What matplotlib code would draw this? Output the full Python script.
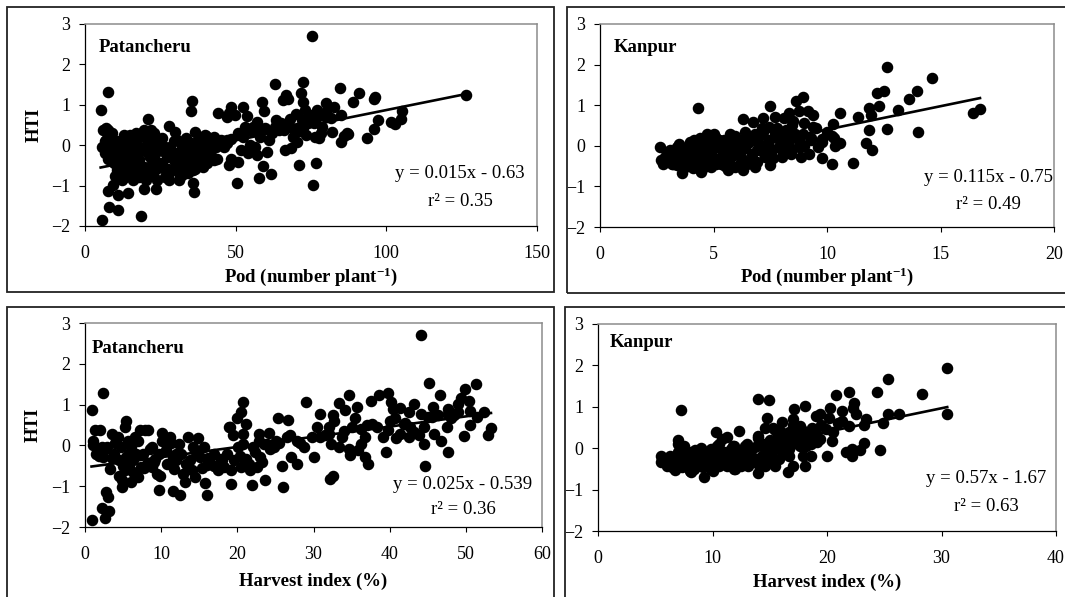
import numpy as np
import matplotlib
matplotlib.use("Agg")
import matplotlib.pyplot as plt
from matplotlib.patches import Rectangle

plt.rcParams["font.family"] = ["Liberation Serif", "DejaVu Serif"]
plt.rcParams["mathtext.fontset"] = "custom"
plt.rcParams["mathtext.rm"] = "Liberation Serif"
plt.rcParams["mathtext.it"] = "Liberation Serif:italic"
plt.rcParams["mathtext.bf"] = "Liberation Serif:bold"

# ---------------- data ----------------
# Patancheru: pods per plant vs HTI
pat_pod_x = [75.3, 5.2, 7.5, 5.5, 18.6, 8.0, 10.8, 7.6, 9.2, 11.1, 14.2, 12.3, 19.7, 23.7, 20.9, 27.8,
             35.6, 35.3, 36.1, 35.8, 50.3, 57.6, 61.6, 59.0, 70.9, 76.8, 75.5, 63.0, 72.2, 71.6, 84.5,
             90.8, 96.3, 96.0, 126.4, 88.8, 105.2, 105.0, 101.5, 102.9, 97.2, 96.0, 93.7, 86.8, 85.1,
             85.8, 87.4, 82.1, 82.6, 80.0, 85.1, 77.1, 76.4, 77.6, 73.3, 69.9, 66.7, 65.6, 67.4, 58.9,
             59.3, 52.3, 48.6, 47.8, 49.9, 53.8, 44.2, 47.2, 42.7, 40.1, 40.4, 43.6, 47.2, 50.7, 43.8,
             41.5, 47.8, 48.6, 50.7, 51.8, 54.1, 54.7, 56.4, 57.0, 53.2, 55.9, 57.0, 57.6, 59.9, 60.4,
             61.0, 63.3, 64.4, 63.1, 66.2, 67.9, 69.0, 68.5, 66.5, 70.2, 71.9, 73.1, 74.8, 75.9, 72.5,
             78.8, 80.0, 81.7, 78.2, 80.0, 72.2, 70.2,
             6.0, 7.1, 6.0, 5.5, 6.5, 7.7, 8.8, 8.3, 7.1, 9.4, 10.6, 11.7, 12.8, 11.1, 12.3, 14.0, 13.4,
             15.1, 14.9, 16.3, 15.7, 16.9, 17.4, 18.0, 18.6, 18.8, 19.7, 20.3, 20.9, 22.0, 21.4, 20.3,
             22.6, 23.2, 24.3, 25.5, 26.0, 26.6, 27.2, 28.3, 28.9, 30.0, 29.5, 31.2, 30.6, 31.8, 32.3,
             33.5, 34.1, 34.6, 35.2, 36.4, 36.9, 37.5, 38.6, 39.2, 39.8, 40.4, 42.1, 42.7, 45.0, 46.1,
             47.2, 37.5, 35.2, 30.6, 25.5, 23.7, 15.1, 13.4, 16.9, 10.6, 12.8, 8.3, 9.9, 11.7, 18.0,
             19.7, 22.0, 24.3, 27.8, 32.3, 34.1, 26.6, 17.4, 14.0, 20.9, 32.3, 35.8, 40.4,
             6.5, 7.5, 8.5, 9.5, 10.5, 11.5, 12.5, 13.5, 14.5, 15.5, 16.5, 17.5, 18.5, 19.5, 20.5,
             21.5, 22.5, 23.5, 24.5, 25.5, 26.5, 27.5, 28.5, 29.5, 30.5, 31.5, 32.5, 33.5, 34.5, 35.5,
             36.5, 38.0, 39.5, 41.0, 44.5, 46.0, 48.5, 52.5, 55.0, 58.0, 62.0, 65.0, 68.0, 71.0, 74.0,
             77.0, 10.0, 16.0, 24.0, 28.0, 13.0, 17.0, 23.0]
pat_pod_y = [2.71, 0.87, 1.31, -1.84, -1.75, -1.52, -1.60, -1.13, -0.99, -1.23, -1.19, -0.87, -1.09,
             -1.08, 0.64, 0.48, 1.09, 0.84, -1.17, -0.94, -0.94, -0.80, -0.71, -0.51, -0.50, -0.45,
             -0.99, 1.51, 1.56, 1.28, 1.42, 1.28, 1.20, 1.14, 1.24, 1.07, 0.85, 0.64, 0.57, 0.52, 0.62,
             0.41, 0.19, 0.29, 0.09, 0.24, 0.27, 0.33, 0.95, 1.04, 0.75, 0.87, 0.21, 0.19, 0.25, 0.76,
             1.24, 1.12, 1.15, 1.08, 0.85, 0.95, 0.95, 0.79, 0.75, 0.73, 0.79, 0.69, 0.21, 0.23, 0.05,
             -0.04, 0.05, 0.29, -0.33, -0.23, -0.49, -0.35, -0.41, -0.12, -0.20, 0.00, -0.04, -0.24,
             0.46, 0.46, 0.58, 0.33, 0.42, -0.16, 0.13, 0.62, 0.38, 0.46, 0.38, 0.46, 0.21, -0.08,
             -0.12, 0.09, 0.62, 0.87, 0.75, 0.54, 1.08, 0.46, 0.71, 0.67, 0.29, 0.83, 0.42, 0.42,
             0.38, 0.42, -0.04, -0.04, -0.20, 0.38, 0.29, -0.28, 0.13, -0.04, -0.28, 0.05, -0.12,
             -0.49, -0.61, -0.53, -0.28, -0.20, 0.25, 0.05, -0.45, -0.61, -0.28, -0.78, -0.08, 0.29,
             0.38, 0.17, -0.20, 0.38, -0.53, -0.86, -0.74, -0.37, -0.12, 0.17, -0.57, -0.78, -0.28,
             -0.04, -0.61, 0.33, -0.37, -0.86, -0.20, -0.53, -0.28, 0.17, -0.70, -0.45, -0.24, 0.32,
             -0.04, -0.37, -0.20, -0.53, 0.25, -0.12, -0.28, -0.37, 0.13, -0.04, 0.13, 0.13, 0.05,
             0.13, -0.04, 0.13, -0.70, -0.78, -0.12, -0.61, -0.45, 0.05, -0.20, -0.28, -0.37, -0.53,
             -0.28, -0.45, -0.70, -0.74, -0.53, -0.16, 0.13, 0.05, 0.05, -0.04, -0.61, -0.45,
             0.10, -0.35, -0.15, -0.45, 0.10, -0.15, -0.35, -0.10, -0.55, 0.15, -0.30, -0.55, -0.15,
             -0.70, 0.25, -0.30, -0.10, -0.60, 0.05, -0.45, -0.05, -0.60, -0.25, 0.10, -0.45, -0.75,
             -0.15, -0.45, -0.05, -0.40, -0.60, -0.30, -0.05, 0.00, 0.05, 0.00, 0.15, 0.20, 0.35,
             0.20, 0.30, 0.55, 0.65, 0.35, 0.55, 0.70, -0.75, -0.85, -0.85, -0.85, 0.25, 0.30, 0.30]

# Kanpur: pods per plant vs HTI
kan_pod_x = [12.66, 14.64, 13.96, 13.63, 12.49, 12.19, 12.27, 11.83, 11.94, 13.12, 16.44, 16.74, 12.64,
             13.99, 11.83, 11.73, 11.98, 11.13, 10.20, 9.76, 9.19, 10.59, 11.38, 10.26, 9.98, 10.29,
             10.36, 10.59, 9.76, 8.93, 8.63, 7.51, 7.18, 6.76, 6.31, 4.31, 7.73, 8.33, 8.78, 9.16,
             9.38, 8.48, 8.18, 8.11, 8.86, 9.38, 9.31, 8.78, 8.48, 8.33, 7.96, 7.73, 8.03, 7.51, 7.28,
             6.91, 7.13, 7.43, 7.13, 6.83, 6.53, 6.31, 5.93, 6.08, 5.93, 5.71, 5.63, 5.33, 5.26, 5.03,
             4.80, 4.73, 4.50, 4.28, 4.13, 3.98, 3.83, 3.60, 3.53, 3.38, 3.15, 2.93, 2.78, 2.63, 2.85,
             3.23, 3.68, 3.90, 4.43, 4.65, 4.88, 5.11, 5.41, 5.56, 5.78, 6.23, 6.68, 6.46, 6.98, 4.28,
             3.98, 4.73, 5.11, 5.48, 5.86, 6.68, 6.23, 5.33, 4.88, 4.58, 4.13, 3.75, 3.38, 3.08, 7.43,
             7.58, 7.88, 8.26, 8.63, 8.93, 9.61, 6.83, 5.63, 4.43,
             2.7, 3.0, 3.1, 3.3, 3.4, 3.6, 3.7, 3.9, 4.0, 4.2, 4.3, 4.5, 4.6, 4.7, 4.9, 5.0, 5.2, 5.3,
             5.4, 5.6, 5.7, 5.9, 6.0, 6.2, 6.4, 6.5, 6.7, 6.9, 7.0, 7.2, 7.4, 7.6, 7.8, 8.0, 8.2, 8.4,
             8.6, 8.8, 9.0, 9.3, 9.5, 9.0, 8.5, 7.8, 7.2, 6.4, 5.8, 5.0, 4.4, 3.5, 3.2, 4.1, 4.9, 5.5,
             6.1, 6.8, 7.5, 8.1, 9.8, 10.2]
kan_pod_y = [1.93, 1.66, 1.36, 1.15, 1.36, 1.29, 0.98, 0.92, 0.75, 0.89, 0.82, 0.90, 0.42, 0.34, 0.38,
             0.06, -0.11, -0.42, -0.44, -0.29, -0.21, 0.80, 0.71, 0.53, 0.34, 0.18, 0.00, 0.07, 0.16,
             1.21, 1.10, 0.98, 0.69, 0.59, 0.65, 0.93, 0.71, 0.80, 0.85, 0.85, 0.75, 0.51, 0.38, 0.69,
             -0.27, 0.47, 0.14, -0.03, -0.07, 0.22, 0.14, 0.30, -0.27, -0.48, -0.27, -0.40, -0.03,
             0.14, 0.43, 0.30, 0.06, -0.60, -0.52, -0.03, 0.24, 0.30, -0.19, -0.27, 0.14, -0.03,
             -0.36, 0.30, -0.11, -0.27, 0.14, -0.44, -0.03, -0.68, -0.27, -0.03, -0.44, -0.19, -0.44,
             -0.03, -0.27, -0.15, -0.36, -0.19, -0.44, -0.19, -0.11, -0.44, -0.03, -0.44, -0.27,
             -0.27, -0.19, -0.44, 0.06, -0.03, 0.10, 0.10, 0.18, 0.14, 0.06, 0.18, 0.14, -0.44, -0.52,
             -0.52, -0.52, -0.52, -0.48, -0.27, 0.47, -0.11, -0.03, 0.06, 0.18, 0.30, -0.03, -0.52,
             -0.60, -0.64,
             -0.35, -0.30, -0.10, -0.35, -0.15, -0.40, -0.20, 0.00, -0.30, -0.10, -0.40, 0.05, -0.30,
             0.20, -0.20, 0.10, -0.35, 0.00, -0.15, 0.05, -0.35, -0.10, 0.15, -0.40, -0.05, 0.20,
             -0.30, -0.10, 0.25, -0.15, 0.10, -0.30, 0.20, -0.10, 0.05, -0.20, 0.30, 0.10, 0.00, 0.20,
             0.45, 0.55, 0.60, 0.45, 0.35, 0.35, 0.25, 0.30, 0.20, 0.05, -0.45, -0.55, -0.45, -0.50,
             -0.20, -0.45, -0.05, 0.35, 0.10, 0.25]

# Patancheru: harvest index vs HTI
pat_hi_x = [44.1, 0.86, 2.35, 0.90, 2.58, 2.22, 3.17, 2.81, 3.0, 4.89, 9.68, 11.5, 12.5, 16.0, 15.7,
            19.2, 21.9, 23.6, 25.98, 25.8, 32.5, 32.2, 44.7, 47.7, 39.5, 37.1, 30.0, 30.9, 32.5, 32.1,
            29.0, 20.8, 20.5, 20.0, 19.1, 21.1, 25.4, 26.6, 24.2, 22.8, 25.1, 26.9, 27.8, 28.7, 27.1,
            27.8, 30.9, 29.8, 32.1, 32.3, 33.4, 33.7, 34.1, 33.4, 34.7, 35.7, 35.5, 34.6, 34.8, 36.2,
            35.9, 36.8, 36.2, 37.6, 38.6, 39.8, 40.2, 37.7, 38.4, 39.1, 40.8, 40.7, 41.4, 42.5, 43.2,
            42.7, 42.5, 43.2, 43.8, 44.5, 44.1, 45.1, 45.7, 45.8, 46.3, 46.6, 46.8, 47.5, 47.7, 48.1,
            49.0, 49.3, 49.9, 49.7, 50.4, 50.6, 51.5, 51.3, 52.4, 52.9, 53.3, 49.0, 47.7, 45.0, 41.9,
            40.5, 36.8, 39.8, 44.5, 41.4, 30.5, 32.7, 35.0,
            1.3, 1.1, 2.0, 1.5, 2.4, 2.2, 2.9, 3.3, 3.6, 4.3, 4.7, 4.9, 5.4, 5.2, 5.6, 5.4, 5.8, 5.2,
            6.1, 6.5, 6.7, 7.0, 7.2, 7.9, 8.3, 7.6, 8.1, 8.8, 9.2, 9.5, 10.1, 10.1, 10.6, 11.1, 11.5,
            11.7, 12.4, 12.6, 12.9, 13.1, 13.5, 13.8, 14.2, 14.4, 14.9, 15.1, 15.6, 16.0, 16.5, 17.4,
            17.8, 18.3, 18.7, 18.9, 19.4, 19.6, 20.1, 20.5, 20.8, 21.2, 21.7, 22.1, 22.6, 22.9, 23.0,
            23.5, 23.9, 24.8, 1.1, 3.8, 4.5, 6.3, 7.4, 8.8, 9.7, 11.9, 14.0, 16.9, 20.8,
            1.8, 2.6, 3.5, 4.0, 5.0, 5.8, 6.3, 6.9, 7.7, 8.5, 9.0, 9.9, 10.8, 11.3, 12.0, 13.3, 14.6,
            15.3, 16.2, 17.0, 18.0, 19.2, 20.3, 21.5, 22.3, 23.3, 24.3, 25.5, 26.5, 28.2, 31.5, 34.0,
            37.0, 40.0, 42.0, 45.5, 48.5, 50.5, 4.5, 6.0]
pat_hi_y = [2.71, 0.86, 1.29, -1.84, -1.77, -1.53, -1.61, -1.14, -1.26, -1.02, -1.10, -1.12, -1.21,
            -1.21, -0.92, -0.94, -0.96, -0.84, -1.02, -0.51, -0.76, -0.83, -0.51, -0.16, -0.17, -0.46,
            -0.28, 0.76, 0.74, 0.45, 1.06, 1.06, 0.82, 0.67, 0.45, 0.52, 0.67, 0.63, 0.30, 0.12, 0.12,
            0.25, 0.12, -0.04, -0.28, -0.45, 0.21, 0.21, 0.29, 0.04, -0.04, 0.21, 0.86, 1.05, 1.23,
            0.94, 0.66, -0.08, -0.24, 0.04, -0.12, -0.28, 0.41, 1.10, 1.23, 1.28, 1.06, 0.53, 0.45,
            0.21, 0.18, 0.66, 0.92, 0.82, 1.02, 0.45, 0.21, 0.33, 0.25, 0.04, 0.78, 1.54, 0.94, 0.29,
            0.74, 1.23, 0.12, 0.45, 0.90, 0.66, 0.82, 1.15, 1.39, 0.22, 1.10, 0.49, 0.70, 1.51, 0.82,
            0.25, 0.43, 1.02, 0.78, 0.70, 0.53, 0.90, 0.21, 0.37, 0.45, 0.29, 0.45, 0.61, 0.45,
            0.37, 0.00, 0.37, -0.20, -0.28, -0.04, -0.04, -0.57, 0.29, 0.21, -0.04, -0.86, 0.61,
            0.45, 0.12, -0.28, -0.53, -0.61, -0.04, 0.21, -0.20, -0.77, 0.37, 0.37, 0.37, -0.20,
            -0.45, -0.04, -0.33, -0.69, 0.12, 0.30, -0.12, 0.21, -0.28, -0.57, 0.04, -0.20, -0.69,
            -0.90, 0.21, -0.37, -0.04, -0.77, 0.17, -0.28, -0.04, -0.49, -0.45, -0.61, -0.33, -0.53,
            -0.20, 0.45, 0.25, -0.37, -0.04, -0.53, 0.29, -0.33, -0.61, -0.04, -0.53, 0.29, -0.28,
            0.04, 0.04, -0.04, 0.12, -0.20, -0.37, -0.37, -0.53, -0.53, -0.20, -0.20, -0.61, -0.20,
            0.04,
            -0.25, -0.10, -0.30, 0.05, -0.50, -0.20, -0.65, 0.10, -0.55, -0.10, -0.40, -0.75, -0.45,
            0.05, -0.35, -0.45, -0.15, -0.55, -0.30, -0.50, -0.35, -0.60, -0.25, -0.45, -0.15, -0.40,
            -0.10, 0.05, 0.20, 0.05, 0.25, 0.35, 0.50, 0.60, 0.55, 0.70, 0.75, 0.85, -0.75, -0.90]

# Kanpur: harvest index vs HTI
kan_hi_x = [30.45, 30.5, 25.3, 28.3, 24.4, 26.3, 25.3, 24.9, 24.6, 23.4, 23.2, 23.2, 22.9, 22.2, 21.7,
            22.2, 21.9, 22.4, 22.5, 22.3, 21.3, 20.8, 20.3, 20.2, 21.3, 21.9, 20.0, 20.4, 19.9, 19.4,
            19.0, 18.7, 19.1, 18.6, 18.1, 18.1, 17.1, 17.0, 17.6, 17.9, 17.3, 18.2, 16.7, 16.1, 16.1,
            17.0, 16.6, 15.5, 14.8, 14.9, 14.0, 15.3, 14.6, 14.0, 14.0, 12.3, 10.3, 11.3, 10.8, 7.25,
            7.0, 9.25, 5.5, 5.5, 6.3, 6.7, 7.5, 7.8, 8.1, 8.4, 8.7, 9.0, 9.55, 9.85, 10.1, 10.6, 11.0,
            11.5, 11.9, 12.2, 12.5, 13.1, 13.6, 13.9, 14.3, 14.9, 15.2, 15.7, 14.6, 13.4, 12.8, 11.6,
            10.7, 9.0, 8.1, 7.2, 6.6, 6.0, 5.8, 7.5, 9.25, 10.4, 12.5, 14.6, 16.4, 16.7, 17.6, 18.5,
            15.8, 11.3, 11.9, 9.85, 8.1, 13.1, 13.7, 15.2, 16.7, 19.4, 17.9,
            5.6, 6.2, 6.8, 7.0, 7.3, 7.7, 8.0, 8.3, 8.6, 8.9, 9.2, 9.4, 9.7, 10.0, 10.2, 10.5, 10.8,
            11.1, 11.4, 11.7, 12.0, 12.3, 12.6, 12.9, 13.2, 13.5, 13.8, 14.1, 14.4, 14.7, 15.0, 15.3,
            15.6, 15.9, 16.2, 16.5, 16.9, 17.2, 17.5, 17.8, 18.2, 18.6, 19.0, 19.5, 20.5, 21.0, 7.0,
            6.5, 8.5, 9.0, 10.6, 11.8, 13.0, 14.0, 15.5, 16.0, 17.0, 12.0, 10.0, 8.0]
kan_hi_y = [1.93, 0.83, 1.66, 1.30, 1.36, 0.82, 0.82, 0.62, -0.05, 0.71, 0.55, 0.12, -0.04, -0.18,
            -0.10, -0.02, 1.36, 1.10, 0.82, 0.96, 0.90, 1.28, 0.98, 0.72, 0.66, 0.54, -0.20, 0.18,
            0.46, 0.82, 0.78, 0.50, 0.14, -0.18, -0.42, 1.02, 0.95, 0.71, 0.54, 0.30, 0.22, 0.06,
            -0.02, 0.64, 0.22, -0.42, -0.58, -0.42, 0.74, 1.16, 1.20, 0.50, 0.48, 0.30, -0.61, 0.42,
            0.40, 0.26, 0.22, 0.92, 0.19, -0.69, -0.20, -0.34, -0.20, -0.52, 0.06, -0.34, -0.10,
            -0.50, -0.18, -0.02, -0.34, -0.02, -0.18, -0.42, -0.10, -0.26, 0.06, -0.18, -0.42, -0.10,
            -0.34, 0.06, -0.18, 0.14, -0.10, 0.30, -0.42, -0.18, 0.06, -0.02, -0.26, -0.42, -0.26,
            -0.42, -0.26, -0.42, -0.26, -0.18, -0.10, 0.06, -0.10, -0.02, 0.06, 0.38, 0.06, 0.30,
            -0.26, -0.42, -0.50, -0.50, -0.58, -0.42, -0.26, -0.34, -0.18, 0.22, -0.18,
            -0.25, -0.35, -0.30, -0.10, -0.45, -0.25, -0.40, -0.15, -0.35, -0.25, -0.45, -0.15,
            -0.30, -0.40, -0.20, -0.30, -0.10, -0.35, -0.15, -0.30, -0.20, -0.35, -0.05, -0.25,
            -0.35, 0.00, -0.25, -0.40, 0.10, -0.20, 0.20, -0.30, 0.00, 0.15, -0.10, 0.30, 0.10, 0.35,
            0.15, 0.45, 0.25, 0.10, 0.35, 0.55, 0.40, 0.60, 0.10, -0.45, -0.05, 0.00, 0.10, 0.05,
            0.10, 0.25, 0.45, 0.40, 0.55, -0.50, -0.55, -0.55]

# fitted trend lines (slope, intercept) and the printed equations
fit_slope = [0.015, 0.115, 0.025, 0.057]
fit_intercept = [-0.63, -0.75, -0.539, -0.745]
eq_labels = ["y = 0.015x - 0.63", "y = 0.115x - 0.75", "y = 0.025x - 0.539", "y = 0.57x - 1.67"]
r2_labels = ["r\u00b2 = 0.35", "r\u00b2 = 0.49", "r\u00b2 = 0.36", "r\u00b2 = 0.63"]

site_names = ["Patancheru", "Kanpur", "Patancheru", "Kanpur"]
x_titles = [r"Pod (number plant$^{\mathbf{-1}}$)", r"Pod (number plant$^{\mathbf{-1}}$)",
            "Harvest index (%)", "Harvest index (%)"]
x_limits = [(0, 150), (0, 20), (0, 60), (0, 40)]
x_steps = [50, 5, 10, 10]
y_ticks = [3, 2, 1, 0, -1, -2]

xs = [pat_pod_x, kan_pod_x, pat_hi_x, kan_hi_x]
ys = [pat_pod_y, kan_pod_y, pat_hi_y, kan_hi_y]

# ---------------- layout ----------------
W, H = 1065, 597
fig = plt.figure(figsize=(W / 100, H / 100), dpi=100)

def px_axes(l, t, r, b):
    return [l / W, 1 - b / H, (r - l) / W, (b - t) / H]

axes_px = [(85, 24, 537, 226), (600, 24, 1054, 227), (85, 323, 542, 527), (598, 324, 1056, 531)]
frame_px = [(7, 7, 554, 292), (567, 6.5, 1072, 292.5), (7, 307, 554, 605), (565, 307, 1072, 605)]

# panel-level frames
for (l, t, r, b) in frame_px:
    fig.patches.append(Rectangle((l / W, 1 - b / H), (r - l) / W, (b - t) / H,
                                 transform=fig.transFigure, fill=False,
                                 edgecolor="#222222", linewidth=1.3, zorder=0))

label_pos = [(0.031, 0.886), (0.031, 0.885), (0.015, 0.873), (0.026, 0.91)]
eq_pos = [(0.83, 0.258, 0.122), (0.855, 0.243, 0.109), (0.827, 0.209, 0.087), (0.847, 0.252, 0.118)]
xlab_y = [-0.251, -0.245, -0.268, -0.25]

for i in range(4):
    ax = fig.add_axes(px_axes(*axes_px[i]))
    x = np.asarray(xs[i])
    y = np.asarray(ys[i])
    ax.plot(x, y, linestyle="none", marker="o", markersize=7.3,
            markerfacecolor="black", markeredgecolor="black", zorder=3)
    xl = np.array([x.min(), x.max()])
    ax.plot(xl, fit_slope[i] * xl + fit_intercept[i], color="black", linewidth=1.9, zorder=4)

    ax.set_xlim(*x_limits[i])
    ax.set_ylim(-2, 3)
    ax.set_xticks(np.arange(x_limits[i][0], x_limits[i][1] + 0.01, x_steps[i]))
    ax.set_yticks(y_ticks)
    ax.tick_params(axis="y", direction="out", length=4.5, width=0.8, pad=6, labelsize=13,
                   left=True, right=False)
    ax.tick_params(axis="x", direction="out", length=3.5, width=0.8, pad=10, labelsize=13,
                   bottom=True, top=False)
    for s in ("left", "bottom"):
        ax.spines[s].set_color("black")
        ax.spines[s].set_linewidth(0.9)
    for s in ("top", "right"):
        ax.spines[s].set_color("#8c8c8c")
        ax.spines[s].set_linewidth(1.1)

    ax.set_xlabel(x_titles[i], fontsize=13.5, fontweight="bold")
    ax.xaxis.set_label_coords(0.5, xlab_y[i])
    ax.xaxis.label.set_verticalalignment("center")
    if i in (0, 2):
        ax.set_ylabel("HTI", fontsize=13.5, fontweight="bold")
        ax.yaxis.set_label_coords(-0.113, 0.5)
        ax.yaxis.label.set_verticalalignment("center")

    ax.text(label_pos[i][0], label_pos[i][1], site_names[i], transform=ax.transAxes,
            fontsize=13.5, fontweight="bold", ha="left", va="center")
    ex, ey1, ey2 = eq_pos[i]
    ax.text(ex, ey1, eq_labels[i], transform=ax.transAxes, fontsize=13.5,
            ha="center", va="center", zorder=5)
    ax.text(ex, ey2, r2_labels[i], transform=ax.transAxes, fontsize=13.5,
            ha="center", va="center", zorder=5)

fig.savefig("out.png", dpi=100)
